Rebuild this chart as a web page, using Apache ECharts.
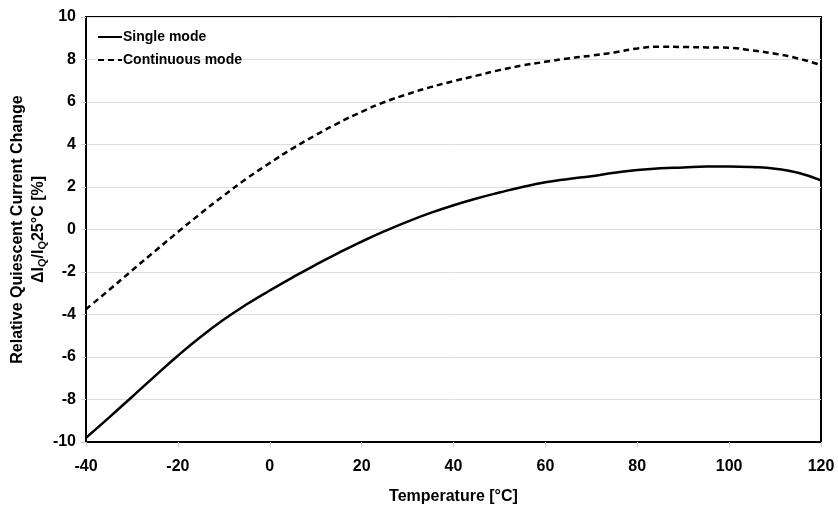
<!DOCTYPE html>
<html>
<head>
<meta charset="utf-8">
<script src="https://cdn.jsdelivr.net/npm/echarts@6/dist/echarts.min.js"></script>
<style>
  html, body { margin: 0; padding: 0; background: #fff; }
  #chart { width: 838px; height: 507px; }
</style>
</head>
<body>
<div id="chart"></div>
<script>
// temperature points (°C)
const temps = [-40, -35, -30, -25, -20, -15, -10, -5, 0, 5, 10, 15, 20, 25, 30, 35, 40,
  45, 50, 55, 60, 65, 70, 75, 80, 85, 90, 95, 100, 105, 110, 115, 120];
// relative change [%]
const singleMode = [-9.8, -8.85, -7.88, -6.9, -5.94, -5.05, -4.24, -3.52, -2.87, -2.25, -1.66, -1.1,
  -0.57, -0.08, 0.37, 0.78, 1.14, 1.46, 1.74, 2.0, 2.22, 2.38, 2.51, 2.67, 2.8, 2.88, 2.92, 2.96,
  2.97, 2.94, 2.86, 2.67, 2.31];
const continuousMode = [-3.75, -2.85, -1.93, -1.02, -0.12, 0.76, 1.6, 2.4, 3.13, 3.82, 4.44, 5.02,
  5.54, 6.0, 6.37, 6.7, 6.98, 7.24, 7.5, 7.72, 7.89, 8.05, 8.18, 8.33, 8.52, 8.6, 8.59, 8.57,
  8.55, 8.43, 8.27, 8.05, 7.74];
const xTicks = { min: -40, max: 120, step: 20 };
const yTicks = { min: -10, max: 10, step: 2 };

const font = 'Liberation Sans, Arial, sans-serif';
const zip = (xs, ys) => xs.map((x, i) => [x, ys[i]]);

const chart = echarts.init(document.getElementById('chart'));
chart.setOption({
  backgroundColor: '#fff',
  animation: false,
  textStyle: { fontFamily: font },
  grid: {
    left: 86, right: 17, top: 17, bottom: 65,
    show: true, borderColor: '#000', borderWidth: 2,
    containLabel: false,
    outerBoundsMode: 'none'
  },
  legend: {
    left: 92, top: 25, orient: 'vertical',
    itemWidth: 24, itemHeight: 10, itemGap: 9,
    itemStyle: { opacity: 0 },
    textStyle: { fontFamily: font, fontWeight: 'bold', fontSize: 14, color: '#000', padding: [0, 0, 0, -4] },
    data: ['Single mode', 'Continuous mode']
  },
  xAxis: {
    type: 'value',
    min: xTicks.min, max: xTicks.max, interval: xTicks.step,
    name: 'Temperature [°C]',
    nameLocation: 'middle', nameGap: 47,
    nameMoveOverlap: false,
    nameTextStyle: { fontFamily: font, fontWeight: 'bold', fontSize: 16, color: '#000' },
    axisLine: { onZero: false, lineStyle: { color: '#000', width: 2 } },
    axisTick: { show: true, length: 5, lineStyle: { color: '#ccc' } },
    axisLabel: { fontFamily: font, fontWeight: 'bold', fontSize: 16, color: '#000', margin: 17 },
    splitLine: { show: false }
  },
  yAxis: {
    type: 'value',
    min: yTicks.min, max: yTicks.max, interval: yTicks.step,
    name: '{t|Relative Quiescent Current Change}\n{t|ΔI}{s|Q}{t|/I}{s|Q}{t|25°C [%]}',
    nameLocation: 'middle', nameGap: 37,
    nameMoveOverlap: false,
    nameTextStyle: {
      color: '#000', align: 'center',
      rich: {
        t: { fontFamily: font, fontWeight: 'bold', fontSize: 16, lineHeight: 21, color: '#000' },
        s: { fontFamily: font, fontWeight: 'bold', fontSize: 11, lineHeight: 21, color: '#000', padding: [8, 0, 0, 0] }
      }
    },
    axisLine: { show: true, onZero: false, lineStyle: { color: '#000', width: 2 } },
    axisTick: { show: true, length: 5, lineStyle: { color: '#ccc' } },
    axisLabel: { fontFamily: font, fontWeight: 'bold', fontSize: 16, color: '#000', margin: 10 },
    splitLine: { show: true, lineStyle: { color: '#dedede', width: 1 } }
  },
  series: [
    {
      name: 'Single mode', type: 'line', smooth: true, symbol: 'none',
      lineStyle: { color: '#000', width: 2.5 },
      itemStyle: { color: '#000' },
      data: zip(temps, singleMode)
    },
    {
      name: 'Continuous mode', type: 'line', smooth: true, symbol: 'none',
      lineStyle: { color: '#000', width: 2.5, type: [6, 4] },
      itemStyle: { color: '#000' },
      data: zip(temps, continuousMode)
    }
  ]
});
</script>
</body>
</html>
